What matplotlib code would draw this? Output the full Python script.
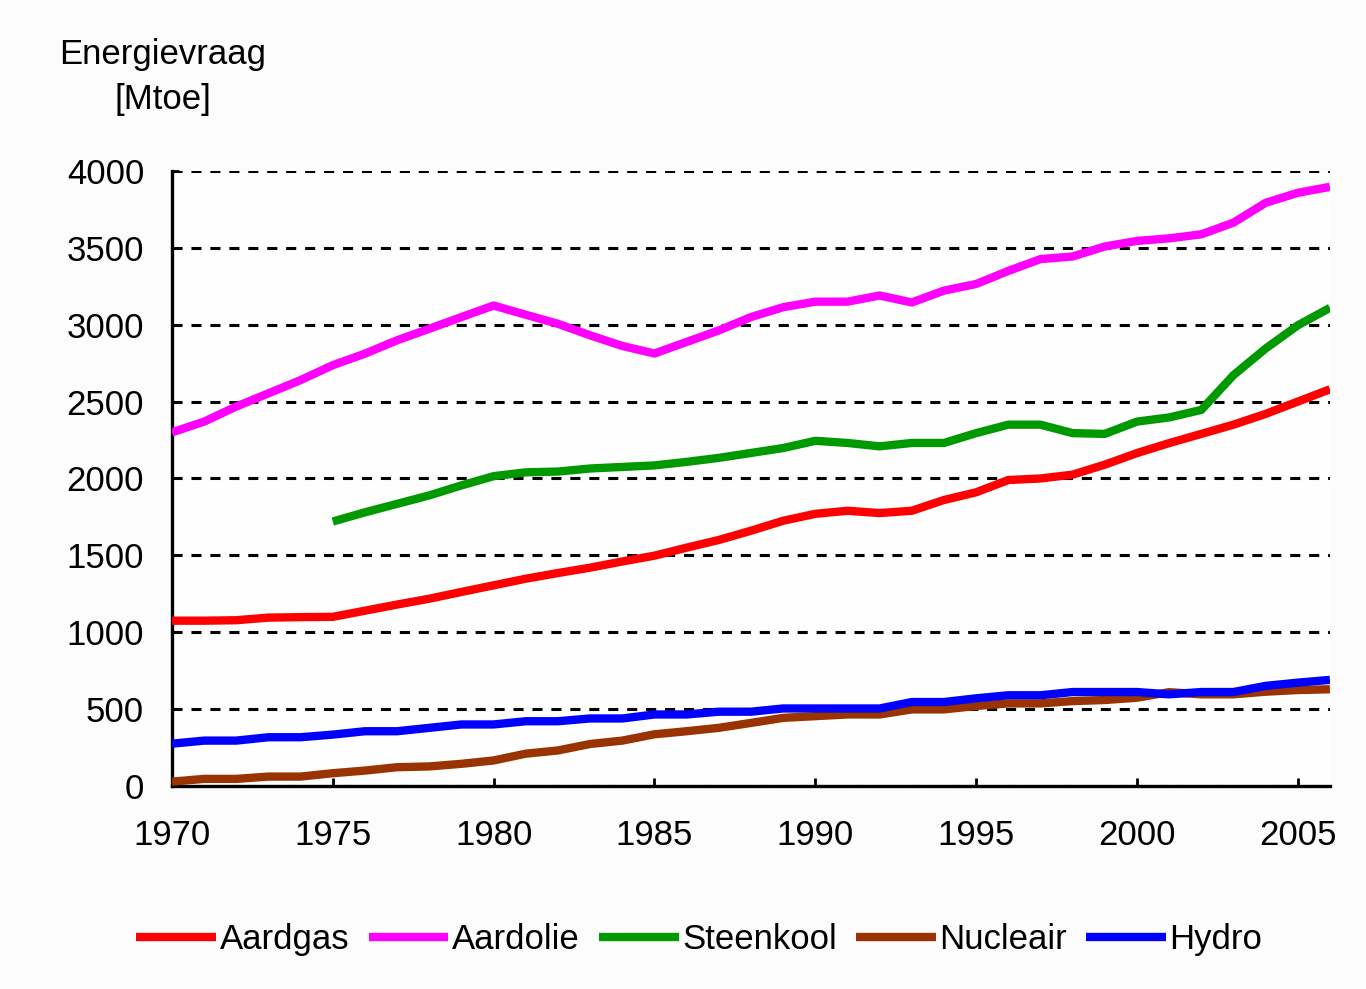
"""Energievraag per energiedrager, 1970-2006 (Mtoe)."""
import numpy as np
import matplotlib
matplotlib.use("Agg")
import matplotlib.pyplot as plt

years = np.arange(1970, 2007)
aardgas = [1075, 1075, 1078, 1095, 1098, 1100, 1140, 1180, 1218, 1262,
           1305, 1348, 1385, 1420, 1460, 1498, 1550, 1600, 1660, 1725,
           1770, 1790, 1775, 1790, 1860, 1910, 1990, 2000, 2025, 2090,
           2165, 2230, 2290, 2350, 2420, 2500, 2580]
aardolie = [2300, 2370, 2468, 2554, 2640, 2737, 2812, 2899, 2974, 3050,
            3125, 3065, 3006, 2931, 2862, 2813, 2888, 2963, 3050, 3114,
            3150, 3150, 3190, 3145, 3222, 3265, 3350, 3427, 3444, 3509,
            3545, 3562, 3588, 3664, 3793, 3858, 3897]
steenkool_years = np.arange(1975, 2007)
steenkool = [1720, 1780, 1835, 1890, 1955, 2015, 2040, 2045, 2065, 2075,
             2085, 2108, 2134, 2166, 2198, 2245, 2231, 2209, 2231, 2231,
             2295, 2350, 2350, 2295, 2290, 2370, 2397, 2446, 2672, 2845,
             2996, 3110]
nucleair = [28, 46, 46, 61, 61, 83, 100, 122, 127, 144,
            166, 210, 231, 273, 295, 336, 356, 378, 410, 443,
            454, 465, 465, 498, 498, 520, 537, 537, 552, 559,
            574, 610, 596, 596, 613, 624, 629]
hydro = [275, 295, 295, 317, 317, 334, 356, 356, 378, 400,
         400, 421, 421, 439, 439, 465, 465, 483, 483, 504,
         504, 504, 504, 546, 546, 570, 590, 590, 611, 611,
         611, 596, 611, 611, 651, 672, 690]

series = [
    ("Aardgas", years, aardgas, "#ff0000"),
    ("Aardolie", years, aardolie, "#ff00ff"),
    ("Steenkool", steenkool_years, steenkool, "#009900"),
    ("Nucleair", years, nucleair, "#993300"),
    ("Hydro", years, hydro, "#0000ff"),
]

plt.rcParams["font.family"] = ["Liberation Sans", "DejaVu Sans"]

fig = plt.figure(figsize=(13.66, 9.89), dpi=100, facecolor="#fcfcfc")
ax = fig.add_axes([0.1259, 0.2053, 0.8477, 0.6218])
ax.set_facecolor("#fefefe")

for label, x, y, color in series:
    ax.plot(x, y, color=color, lw=6, label=label, solid_capstyle="butt", zorder=3)

ax.set_xlim(1970, 2006)
ax.set_ylim(0, 4000)
ax.set_xticks(range(1970, 2006, 5))
ax.set_yticks(range(0, 4001, 500))
ax.yaxis.grid(True, color="black", lw=2.2, linestyle=(0, (3.3, 2.9)), zorder=1)
ax.set_axisbelow(True)

for side in ("top", "right"):
    ax.spines[side].set_visible(False)
for side in ("left", "bottom"):
    ax.spines[side].set_linewidth(2.4)
    ax.spines[side].set_color("black")

ax.tick_params(axis="y", direction="in", length=5, width=2, pad=20, labelsize=25)
ax.tick_params(axis="x", direction="in", length=6, width=2, pad=24, labelsize=25)

fig.text(0.119, 0.922, "Energievraag\n[Mtoe]", ha="center", va="center",
         fontsize=25, multialignment="center", linespacing=1.45)

fig.legend(loc="center", bbox_to_anchor=(0.512, 0.05), ncol=5, frameon=False,
           fontsize=25, handlelength=2.3, handletextpad=0.1, columnspacing=0.55)

fig.savefig("out.png", dpi=100, facecolor=fig.get_facecolor())
